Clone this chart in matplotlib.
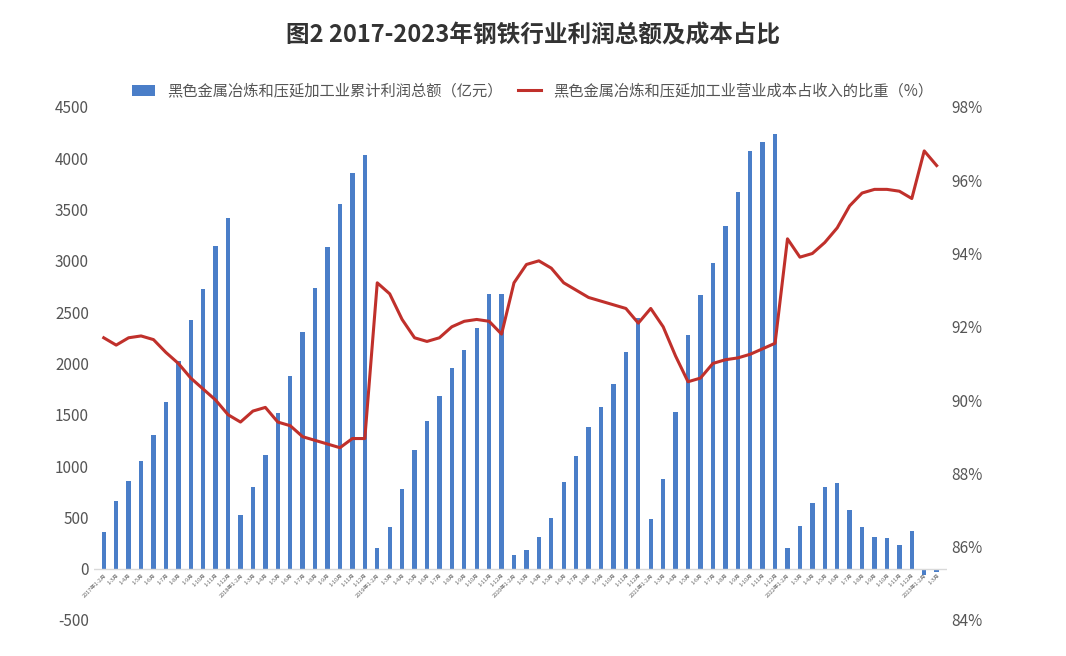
import matplotlib
matplotlib.use("Agg")
import matplotlib.pyplot as plt
import numpy as np

plt.rcParams['font.family'] = ['Noto Sans CJK SC', 'DejaVu Sans']
plt.rcParams['axes.unicode_minus'] = False

years = ["2017", "2018", "2019", "2020", "2021", "2022"]
months = ["1-2月", "1-3月", "1-4月", "1-5月", "1-6月", "1-7月", "1-8月", "1-9月", "1-10月", "1-11月", "1-12月"]
labels = []
for y in years:
    for i, m in enumerate(months):
        labels.append(f"{y}年{m}" if i == 0 else m)
labels += ["2023年1-2月", "1-3月"]

profit = [360, 660, 850, 1050, 1300, 1620, 2020, 2420, 2730, 3140, 3420,
          520, 800, 1110, 1520, 1880, 2310, 2740, 3130, 3550, 3860, 4030,
          200, 410, 780, 1160, 1440, 1680, 1960, 2130, 2350, 2680, 2680,
          130, 180, 310, 490, 840, 1100, 1380, 1580, 1800, 2110, 2440,
          480, 870, 1530, 2280, 2670, 2980, 3340, 3670, 4070, 4160, 4240,
          200, 420, 640, 800, 830, 570, 410, 310, 300, 230, 370,
          -60, -30]
ratio = [91.7, 91.5, 91.7, 91.75, 91.65, 91.3, 91.0, 90.6, 90.3, 90.0, 89.6,
         89.4, 89.7, 89.8, 89.4, 89.3, 89.0, 88.9, 88.8, 88.7, 88.95, 88.95,
         93.2, 92.9, 92.2, 91.7, 91.6, 91.7, 92.0, 92.15, 92.2, 92.15, 91.8,
         93.2, 93.7, 93.8, 93.6, 93.2, 93.0, 92.8, 92.7, 92.6, 92.5, 92.1,
         92.5, 92.0, 91.2, 90.5, 90.6, 91.0, 91.1, 91.15, 91.25, 91.4, 91.55,
         94.4, 93.9, 94.0, 94.3, 94.7, 95.3, 95.65, 95.75, 95.75, 95.7, 95.5,
         96.8, 96.4]

fig = plt.figure(figsize=(10.66, 6.56), dpi=100)
ax = fig.add_axes([0.088, 0.055, 0.80, 0.782])
x = np.arange(len(profit))
b = ax.bar(x, profit, width=0.35, color='#4a7ec8', label='黑色金属冶炼和压延加工业累计利润总额（亿元）')
ax.set_ylim(-500, 4500)
ax.set_yticks(range(-500, 4501, 500))
ax.set_xlim(-0.8, len(profit) - 0.2)
ax.set_xticks([])
for xi, lab in zip(x, labels):
    ax.text(xi + 0.3, -40, lab, rotation=45, ha='right', va='top', fontsize=4, color='#666666')
ax2 = ax.twinx()
l, = ax2.plot(x, ratio, color='#c0302b', lw=2.2, label='黑色金属冶炼和压延加工业营业成本占收入的比重（%）')
ax2.set_ylim(84, 98)
ax2.set_yticks(range(84, 99, 2))
ax2.set_yticklabels([f"{v}%" for v in range(84, 99, 2)])
for a in (ax, ax2):
    for s in a.spines.values():
        s.set_visible(False)
    a.tick_params(length=0, labelsize=11, colors='#555555')
ax.axhline(0, color='#d9d9d9', lw=1)
fig.suptitle('图2 2017-2023年钢铁行业利润总额及成本占比', y=0.965, fontsize=17, fontweight='bold', color='#333333')
fig.legend(handles=[b, l], loc='upper center', bbox_to_anchor=(0.5, 0.895), ncol=2, frameon=False,
           fontsize=11, labelcolor='#555555', handlelength=1.5, columnspacing=1.0)
fig.savefig('out.png', dpi=100)
